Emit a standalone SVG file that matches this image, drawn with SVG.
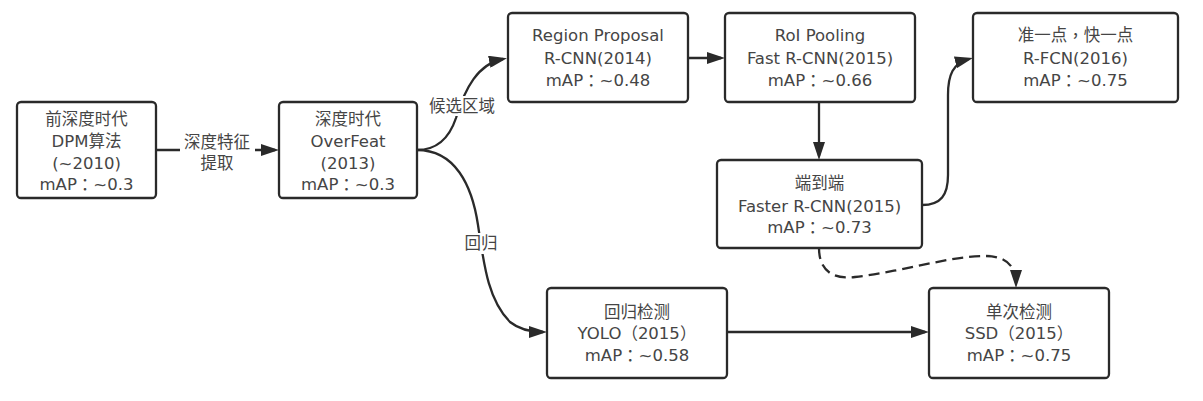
<svg xmlns="http://www.w3.org/2000/svg" width="1203" height="401" viewBox="0 0 1203 401">
<defs>
<marker id="arr" viewBox="0 0 18 12" refX="14" refY="6" markerWidth="18" markerHeight="12" markerUnits="userSpaceOnUse" orient="auto">
<path d="M0,0 L18,6 L0,12 Z" fill="#2a2a2a"/>
</marker>
<style>
.box{fill:#fff;stroke:#2a2a2a;stroke-width:2.3}
.t{font-family:"DejaVu Sans","Noto Sans CJK SC",sans-serif;font-size:16.5px;fill:#454545;text-anchor:middle;dominant-baseline:central}
.p{font-family:"Noto Sans CJK TC",sans-serif}
.e{fill:none;stroke:#2a2a2a;stroke-width:2.3}
.d{stroke-dasharray:11 6}
.lb{fill:#fff}
</style>
</defs>
<rect width="1203" height="401" fill="#fff"/>
<g id="connectors">
<path class="e" d="M156,150 L275,150" marker-end="url(#arr)"/>
<path class="e" d="M417,150 C438,150 450,136 456,118 C465,88 478,64 503,59" marker-end="url(#arr)"/>
<path class="e" d="M417,150 C455,150 472,185 478,225 C484,265 488,300 510,322 C520,330 530,332 543,332" marker-end="url(#arr)"/>
<path class="e" d="M688,58 L721,58" marker-end="url(#arr)"/>
<path class="e" d="M819,102 L819,156" marker-end="url(#arr)"/>
<path class="e" d="M922,205 C941,205 948,195 948,175 L948,95 C948,75 953,63 969,59" marker-end="url(#arr)"/>
<path class="e d" d="M819,248 C819,268 830,280 855,277 C900,272 950,256 985,256 C1005,256 1016,265 1016,284" marker-end="url(#arr)"/>
<path class="e" d="M727,332 L925,332" marker-end="url(#arr)"/>
<rect class="lb" x="180" y="131" width="75" height="42"/>
<text class="t" x="217" y="142">深度特征</text>
<text class="t" x="217" y="163">提取</text>
<rect class="lb" x="427" y="96" width="70" height="20"/>
<text class="t" x="462" y="106">候选区域</text>
<rect class="lb" x="464" y="233" width="35" height="21"/>
<text class="t" x="481" y="243">回归</text>
</g>
<g id="n1">
<rect class="box" x="17" y="102" width="139" height="96" rx="4"/>
<text class="t" x="86.5" y="119">前深度时代</text>
<text class="t" x="86.5" y="141">DPM算法</text>
<text class="t" x="86.5" y="163">(~2010)</text>
<text class="t" x="86.5" y="184">mAP<tspan class="p">：</tspan>~0.3</text>
</g>
<g id="n2">
<rect class="box" x="279" y="102" width="138" height="96" rx="4"/>
<text class="t" x="348" y="119">深度时代</text>
<text class="t" x="348" y="141">OverFeat</text>
<text class="t" x="348" y="163">(2013)</text>
<text class="t" x="348" y="184">mAP<tspan class="p">：</tspan>~0.3</text>
</g>
<g id="n3">
<rect class="box" x="508" y="13" width="180" height="89" rx="4"/>
<text class="t" x="598" y="35">Region Proposal</text>
<text class="t" x="598" y="58">R-CNN(2014)</text>
<text class="t" x="598" y="80">mAP<tspan class="p">：</tspan>~0.48</text>
</g>
<g id="n4">
<rect class="box" x="725" y="13" width="190" height="89" rx="4"/>
<text class="t" x="820" y="35">RoI Pooling</text>
<text class="t" x="820" y="58">Fast R-CNN(2015)</text>
<text class="t" x="820" y="80">mAP<tspan class="p">：</tspan>~0.66</text>
</g>
<g id="n5">
<rect class="box" x="717" y="160" width="205" height="88" rx="4"/>
<text class="t" x="819.5" y="183">端到端</text>
<text class="t" x="819.5" y="206">Faster R-CNN(2015)</text>
<text class="t" x="819.5" y="227">mAP<tspan class="p">：</tspan>~0.73</text>
</g>
<g id="n6">
<rect class="box" x="973" y="13" width="205" height="89" rx="4"/>
<text class="t" x="1075.5" y="35">准一点<tspan class="p">，</tspan>快一点</text>
<text class="t" x="1075.5" y="58">R-FCN(2016)</text>
<text class="t" x="1075.5" y="80">mAP<tspan class="p">：</tspan>~0.75</text>
</g>
<g id="n7">
<rect class="box" x="547" y="288" width="180" height="90" rx="4"/>
<text class="t" x="637" y="312">回归检测</text>
<text class="t" x="637" y="333">YOLO<tspan class="p">（</tspan>2015<tspan class="p">）</tspan></text>
<text class="t" x="637" y="355">mAP<tspan class="p">：</tspan>~0.58</text>
</g>
<g id="n8">
<rect class="box" x="929" y="288" width="180" height="90" rx="4"/>
<text class="t" x="1019" y="312">单次检测</text>
<text class="t" x="1019" y="333">SSD<tspan class="p">（</tspan>2015<tspan class="p">）</tspan></text>
<text class="t" x="1019" y="355">mAP<tspan class="p">：</tspan>~0.75</text>
</g>
</svg>
